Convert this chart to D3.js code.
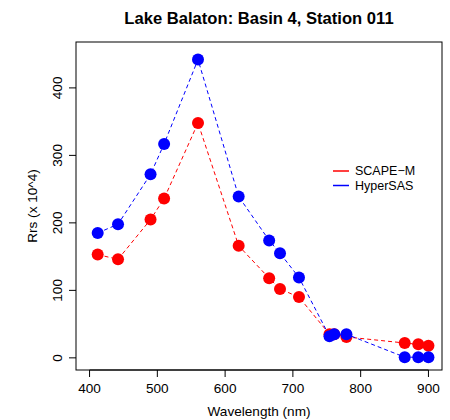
<!DOCTYPE html>
<html>
<head>
	<title>Lake Balaton: Basin 4, Station 011</title>
	<style type="text/css">
		body {
			margin: 0;
			background: white;
		}
		text {
			font-family: "Liberation Sans", Arial, sans-serif;
			fill: black;
		}
		.title {
			font-weight: bold;
			font-size: 16.6px;
		}
		.tick-lbl, .axis-label {
			font-size: 13.6px;
		}
		.legend-txt {
			font-size: 12.5px;
		}
	</style>
</head>
<body>
<svg id="chart"></svg>

<script type="text/javascript" src="https://d3js.org/d3.v7.min.js"></script>
<script type="text/javascript">
	// MERIS band centres (nm)
	var wavelengths = [412, 442, 490, 510, 560, 620, 665, 681, 709, 754, 761, 779, 865, 885, 900];
	var scapeM = [153, 146, 205, 236, 348, 166, 118, 102, 90, 35, 35, 31, 22, 20, 18];
	var hyperSAS = [185, 198, 272, 317, 442, 239, 174, 155, 119, 32, 35, 35, 1, 1, 1];
	var xTicks = [400, 500, 600, 700, 800, 900];
	var yTicks = [0, 100, 200, 300, 400];
	var seriesNames = ["SCAPE\u2212M", "HyperSAS"];
	var seriesColors = ["#ff0000", "#0000ff"];

	var W = 450, H = 420;
	var margin = {top: 42, bottom: 50, left: 76, right: 8};

	var svg = d3.select("#chart")
		.attr("width", W)
		.attr("height", H);

	// R-style ranges: xlim 400-900, ylim 0-450, extended by 4%
	var x = d3.scaleLinear().domain([380, 920]).range([margin.left, W - margin.right]);
	var y = d3.scaleLinear().domain([-18, 468]).range([H - margin.bottom, margin.top]);

	// title
	svg.append("text")
		.attr("class", "title")
		.attr("x", (margin.left + W - margin.right) / 2)
		.attr("y", 24)
		.attr("text-anchor", "middle")
		.text("Lake Balaton: Basin 4, Station 011");

	// box
	svg.append("rect")
		.attr("x", margin.left)
		.attr("y", margin.top)
		.attr("width", W - margin.right - margin.left)
		.attr("height", H - margin.bottom - margin.top)
		.attr("fill", "none")
		.attr("stroke", "black")
		.attr("stroke-width", 1);

	// x axis (manual, R-like)
	var xb = H - margin.bottom;
	svg.append("line")
		.attr("x1", x(xTicks[0])).attr("x2", x(xTicks[xTicks.length - 1]))
		.attr("y1", xb).attr("y2", xb)
		.attr("stroke", "black");
	svg.selectAll(".xtick").data(xTicks)
		.enter().append("line")
		.attr("class", "xtick")
		.attr("x1", d => x(d)).attr("x2", d => x(d))
		.attr("y1", xb).attr("y2", xb + 7)
		.attr("stroke", "black");
	svg.selectAll(".xlbl").data(xTicks)
		.enter().append("text")
		.attr("class", "tick-lbl xlbl")
		.attr("x", d => x(d))
		.attr("y", xb + 23)
		.attr("text-anchor", "middle")
		.text(d => d);

	// y axis
	var yb = margin.left;
	svg.selectAll(".ytick").data(yTicks)
		.enter().append("line")
		.attr("class", "ytick")
		.attr("x1", yb - 7).attr("x2", yb)
		.attr("y1", d => y(d)).attr("y2", d => y(d))
		.attr("stroke", "black");
	svg.selectAll(".ylbl").data(yTicks)
		.enter().append("text")
		.attr("class", "tick-lbl ylbl")
		.attr("text-anchor", "middle")
		.attr("transform", d => `translate(62, ${y(d)}) rotate(-90)`)
		.text(d => d);

	// axis labels
	svg.append("text")
		.attr("class", "axis-label")
		.attr("x", (margin.left + W - margin.right) / 2)
		.attr("y", 416)
		.attr("text-anchor", "middle")
		.text("Wavelength (nm)");

	svg.append("text")
		.attr("class", "axis-label")
		.attr("text-anchor", "middle")
		.attr("transform", `translate(37, ${(margin.top + H - margin.bottom) / 2}) rotate(-90)`)
		.text("Rrs (x 10^4)");

	// series
	var series = [scapeM, hyperSAS];
	var line = d3.line()
		.x((d, i) => x(wavelengths[i]))
		.y(d => y(d));

	series.forEach(function(vals, s) {
		var g = svg.append("g");
		g.append("path")
			.datum(vals)
			.attr("d", line)
			.attr("fill", "none")
			.attr("stroke", seriesColors[s])
			.attr("stroke-width", 1)
			.attr("stroke-dasharray", "4,3");
		g.selectAll("circle").data(vals)
			.enter().append("circle")
			.attr("cx", (d, i) => x(wavelengths[i]))
			.attr("cy", d => y(d))
			.attr("r", 6)
			.attr("fill", seriesColors[s]);
	});

	// legend
	var legX = 333, legY = 171, legStep = 14.5;
	seriesNames.forEach(function(name, i) {
		svg.append("line")
			.attr("x1", legX).attr("x2", legX + 16)
			.attr("y1", legY + i * legStep).attr("y2", legY + i * legStep)
			.attr("stroke", seriesColors[i])
			.attr("stroke-width", 1.5);
		svg.append("text")
			.attr("class", "legend-txt")
			.attr("x", legX + 22)
			.attr("y", legY + i * legStep)
			.attr("dy", "0.35em")
			.text(name);
	});
</script>
</body>
</html>
